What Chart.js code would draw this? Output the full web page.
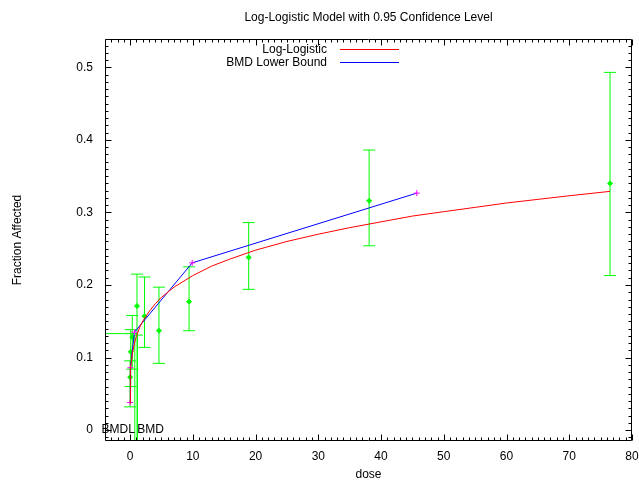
<!DOCTYPE html>
<html>
<head>
<meta charset="utf-8">
<title>Log-Logistic Model</title>
<script src="https://cdn.jsdelivr.net/npm/chart.js@4.4.0/dist/chart.umd.min.js"></script>
<style>
  html, body { margin: 0; padding: 0; background: #fff; }
</style>
</head>
<body>
<canvas id="bmdChart" width="639" height="481"></canvas>
<script>
// observed groups: dose, fraction affected, 95% limits
const doses = [0, 0.1, 0.35, 1.1, 2.3, 4.6, 9.4, 18.9, 38.1, 76.5];
const means = [0.073, 0.108, 0.128, 0.171, 0.157, 0.137, 0.177, 0.238, 0.316, 0.340];
const lower = [0.032, 0.060, 0.084, 0.131, 0.114, 0.092, 0.137, 0.194, 0.254, 0.213];
const upper = [0.0955, 0.1385, 0.158, 0.215, 0.211, 0.197, 0.225, 0.286, 0.386, 0.493];

// fitted log-logistic curve
const curveDoses = [0, 0.01, 0.03, 0.05, 0.1, 0.2, 0.4, 0.7, 1, 1.5, 2, 3, 4, 5, 7, 10, 13, 16, 20, 25, 30, 35, 40, 45, 50, 55, 60, 65, 70, 76.5];
const curveValues = [0.037, 0.059, 0.068, 0.074, 0.083, 0.094, 0.107, 0.120, 0.129, 0.141, 0.150, 0.163, 0.174, 0.183, 0.197, 0.213, 0.226, 0.236, 0.248, 0.260, 0.270, 0.279, 0.287, 0.295, 0.301, 0.307, 0.313, 0.318, 0.323, 0.329];

// BMD lower bound line
const boundDoses = [0, 0.05, 0.7, 9.9, 45.7];
const boundValues = [0.038, 0.086, 0.135, 0.2305, 0.3266];

const bmr = 0.133;
const bmd = 1.15;
const bmdl = 0.75;

const xMin = -4, xMax = 80;
const yMin = -0.015, yMax = 0.539;
const xTicks = [0, 10, 20, 30, 40, 50, 60, 70, 80];
const yTicks = [0, 0.1, 0.2, 0.3, 0.4, 0.5];

const GREEN = "#00ff00";
const FONT = "'Liberation Sans', Arial, Helvetica, sans-serif";

Chart.defaults.font.family = FONT;
Chart.defaults.font.size = 12;
Chart.defaults.color = "#000";

const pts = (xs, ys) => xs.map((x, i) => ({ x, y: ys[i] }));

const errorBars = doses.map((d, i) => ({
  data: [{ x: d, y: lower[i] }, { x: d, y: upper[i] }],
  showLine: true,
  borderColor: GREEN,
  borderWidth: 1,
  pointStyle: "line",
  pointRadius: 6,
  pointBorderColor: GREEN,
  pointBorderWidth: 1,
}));

// frame, inward ticks, legend and BMD labels, gnuplot style
const gnuplotFrame = {
  id: "gnuplotFrame",
  afterDraw(chart) {
    const { ctx, chartArea: a, scales } = chart;
    const x = scales.x, y = scales.y;
    const left = Math.round(a.left) + 0.5, right = Math.round(a.right) - 0.5;
    const top = Math.round(a.top) + 0.5, bottom = Math.round(a.bottom) - 0.5;
    ctx.save();
    ctx.strokeStyle = "#000";
    ctx.lineWidth = 1;
    ctx.beginPath();
    for (let v = Math.ceil(xMin); v <= xMax; v++) {
      const px = Math.round(x.getPixelForValue(v)) + 0.5;
      const len = v % 10 === 0 ? 6 : 3;
      ctx.moveTo(px, bottom); ctx.lineTo(px, bottom - len);
      ctx.moveTo(px, top); ctx.lineTo(px, top + len);
    }
    for (let k = Math.ceil(yMin * 100); k <= Math.floor(yMax * 100); k++) {
      const py = Math.round(y.getPixelForValue(k / 100)) + 0.5;
      const len = k % 10 === 0 ? 6 : 3;
      ctx.moveTo(left, py); ctx.lineTo(left + len, py);
      ctx.moveTo(right, py); ctx.lineTo(right - len, py);
    }
    ctx.rect(left, top, right - left, bottom - top);
    ctx.stroke();

    // legend
    ctx.font = "12px " + FONT;
    ctx.fillStyle = "#000";
    ctx.textAlign = "right";
    ctx.textBaseline = "middle";
    ctx.fillText("Log-Logistic", 327, 50);
    ctx.fillText("BMD Lower Bound", 327, 63);
    ctx.beginPath();
    ctx.strokeStyle = "#ff0000";
    ctx.moveTo(340, 49.5); ctx.lineTo(399, 49.5);
    ctx.stroke();
    ctx.beginPath();
    ctx.strokeStyle = "#0000ff";
    ctx.moveTo(340, 62.5); ctx.lineTo(399, 62.5);
    ctx.stroke();

    // BMD / BMDL labels on the zero line
    const y0 = y.getPixelForValue(0);
    ctx.textAlign = "right";
    ctx.fillText("BMDL", x.getPixelForValue(bmdl), y0);
    ctx.textAlign = "left";
    ctx.fillText("BMD", x.getPixelForValue(bmd), y0);
    ctx.restore();
  },
};

new Chart(document.getElementById("bmdChart"), {
  type: "scatter",
  data: {
    datasets: [
      {
        data: pts(curveDoses, curveValues),
        showLine: true,
        borderColor: "#ff0000",
        borderWidth: 1,
        pointRadius: 0,
      },
      {
        data: pts(boundDoses, boundValues),
        showLine: true,
        borderColor: "#0000ff",
        borderWidth: 1,
        pointStyle: "cross",
        pointRadius: 3,
        pointBorderColor: "#ff00ff",
        pointBorderWidth: 1,
      },
      {
        data: pts(doses, means),
        pointStyle: "rectRot",
        pointRadius: 2.5,
        backgroundColor: GREEN,
        borderColor: GREEN,
      },
      {
        data: [{ x: xMin, y: bmr }, { x: bmd, y: bmr }, { x: bmd, y: yMin }],
        showLine: true,
        borderColor: GREEN,
        borderWidth: 1,
        pointRadius: 0,
      },
      {
        data: [{ x: bmdl, y: yMin }, { x: bmdl, y: bmr }],
        showLine: true,
        borderColor: GREEN,
        borderWidth: 1,
        pointRadius: 0,
      },
      ...errorBars,
    ],
  },
  options: {
    responsive: false,
    animation: false,
    layout: { padding: { left: 0, right: 6, top: 0, bottom: 0 } },
    plugins: {
      legend: { display: false },
      tooltip: { enabled: false },
      title: {
        display: true,
        fullSize: false,
        text: "Log-Logistic Model with 0.95 Confidence Level",
        font: { size: 12, weight: "normal" },
        color: "#000",
        padding: { top: 10, bottom: 14.6 },
      },
    },
    scales: {
      x: {
        type: "linear",
        min: xMin,
        max: xMax,
        afterBuildTicks: (scale) => { scale.ticks = xTicks.map((v) => ({ value: v })); },
        afterFit: (scale) => {
          scale.height = 40;
          scale.paddingLeft = 0;
          scale.paddingRight = 0;
        },
        ticks: { padding: 8, maxRotation: 0, autoSkip: false },
        grid: { display: false, drawTicks: false },
        border: { display: false },
        title: {
          display: true,
          text: "dose",
          font: { size: 12, lineHeight: 1 },
          padding: { top: 0, bottom: 0 },
        },
      },
      y: {
        type: "linear",
        min: yMin,
        max: yMax,
        afterBuildTicks: (scale) => { scale.ticks = yTicks.map((v) => ({ value: v })); },
        afterFit: (scale) => { scale.width = 105; },
        ticks: {
          padding: 12,
          callback: (v) => (v === 0 ? "0" : String(+v.toFixed(1))),
        },
        grid: { display: false, drawTicks: false },
        border: { display: false },
        title: { display: true, text: "Fraction Affected", padding: { top: 10, bottom: 0 } },
      },
    },
  },
  plugins: [gnuplotFrame],
});
</script>
</body>
</html>
